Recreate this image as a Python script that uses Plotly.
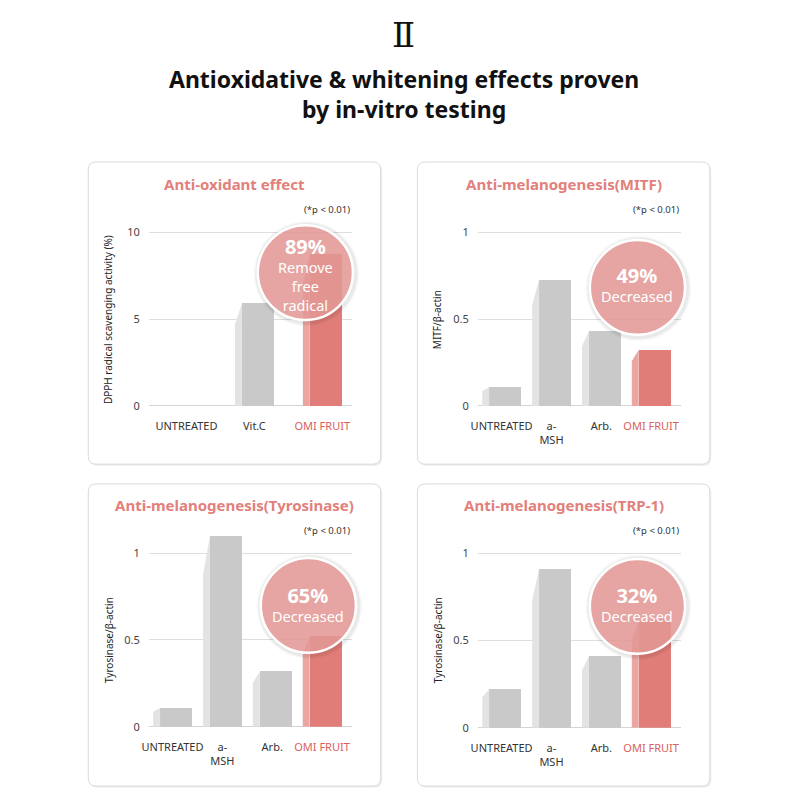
import plotly.graph_objects as go

# ---------------- data ----------------
cats_antiox = ["UNTREATED", "Vit.C", "OMI FRUIT"]
ticks_antiox = ["UNTREATED", "Vit.C", "OMI FRUIT"]
dpph_values = [0.0, 5.9, 8.75]

cats_mel = ["UNTREATED", "a-MSH", "Arb.", "OMI FRUIT"]
ticks_mel = ["UNTREATED", "a-<br>MSH", "Arb.", "OMI FRUIT"]
mitf_values = [0.108, 0.727, 0.43, 0.324]
tyrosinase_values = [0.108, 1.097, 0.318, 0.52]
trp1_values = [0.22, 0.91, 0.41, 0.62]

yticks_antiox = [0, 5, 10]
yticks_mel = [0, 0.5, 1]

panel_titles = ["Anti-oxidant effect", "Anti-melanogenesis(MITF)",
                "Anti-melanogenesis(Tyrosinase)", "Anti-melanogenesis(TRP-1)"]
y_titles = ["DPPH radical scavenging activity (%)", "MITF/β-actin",
            "Tyrosinase/β-actin", "Tyrosinase/β-actin"]
badge_pcts = ["89%", "49%", "65%", "32%"]
badge_texts = ["Remove<br>free<br>radical", "Decreased", "Decreased", "Decreased"]

# ---------------- style ----------------
FONT = "Noto Sans"
GRAY = "#c9c9c9"
GRAY_SIDE = "#e3e3e3"
RED = "#e07d78"
RED_SIDE = "#eca6a2"
TITLE_RED = "#e2807b"
LABEL_RED = "#d9605c"

def PX(x):
    return x / 800.0

def PY(y):
    return 1 - y / 800.0

panels = [
    dict(cats=cats_antiox, ticks=ticks_antiox, vals=dpph_values, yt=yticks_antiox,
         ytt=["0", "5", "10"], yr=[0, 10.3], plot=(143, 348, 227, 408),
         xr=[-0.555, 2.438], card=(82, 161, 377, 467), title_y=183, p_y=209,
         ytitle_x=102, ytitle_y=321, badge=(301, 273, 48), badge_text_y=274),
    dict(cats=cats_mel, ticks=ticks_mel, vals=mitf_values, yt=yticks_mel,
         ytt=["0", "0.5", "1"], yr=[0, 1.03], plot=(475, 680, 227, 408),
         xr=[-0.477, 3.6], card=(414, 161, 709, 467), title_y=183, p_y=209,
         ytitle_x=434, ytitle_y=321, badge=(636, 288, 48), badge_text_y=285),
    dict(cats=cats_mel, ticks=ticks_mel, vals=tyrosinase_values, yt=yticks_mel,
         ytt=["0", "0.5", "1"], yr=[0, 1.12], plot=(143, 348, 536, 733),
         xr=[-0.477, 3.6], card=(82, 487, 377, 793), title_y=508, p_y=534,
         ytitle_x=103, ytitle_y=645, badge=(304, 610, 48), badge_text_y=609),
    dict(cats=cats_mel, ticks=ticks_mel, vals=trp1_values, yt=yticks_mel,
         ytt=["0", "0.5", "1"], yr=[0, 1.03], plot=(475, 680, 552, 734),
         xr=[-0.477, 3.6], card=(414, 487, 709, 793), title_y=508, p_y=534,
         ytitle_x=435, ytitle_y=645, badge=(636, 611, 48), badge_text_y=609),
]

fig = go.Figure()
shapes = []
annotations = []

MAIN_W_PX = 32
SIDE_W_PX = 7

for k, p in enumerate(panels):
    idx = "" if k == 0 else str(k + 1)
    xa, ya = "x" + idx, "y" + idx
    x0p, x1p, ytop, ybot = p["plot"]
    unit = (x1p - x0p) / (p["xr"][1] - p["xr"][0])
    main_w = MAIN_W_PX / unit
    side_w = SIDE_W_PX / unit
    left = -(MAIN_W_PX + SIDE_W_PX) / 2.0 / unit
    main_off = left + side_w

    xs = list(range(len(p["cats"])))
    colors = [RED if c == "OMI FRUIT" else GRAY for c in p["cats"]]
    side_colors = [RED_SIDE if c == "OMI FRUIT" else GRAY_SIDE for c in p["cats"]]

    # side (perspective) faces
    for i, v in enumerate(p["vals"]):
        if v <= 0:
            continue
        xl = i + left
        xr = i + main_off
        fig.add_trace(go.Scatter(
            x=[xl, xl, xr, xr, xl], y=[0, 0.8 * v, v, 0, 0],
            mode="lines", fill="toself", fillcolor=side_colors[i],
            line=dict(width=0, color=side_colors[i]), hoverinfo="skip",
            showlegend=False, xaxis=xa, yaxis=ya))
    # main bars
    fig.add_trace(go.Bar(
        x=xs, y=p["vals"], width=main_w, offset=main_off,
        marker=dict(color=colors, line=dict(width=0)),
        showlegend=False, xaxis=xa, yaxis=ya, hoverinfo="skip"))

    ticktext = []
    for c, t in zip(p["cats"], p["ticks"]):
        if c == "OMI FRUIT":
            ticktext.append('<span style="color:%s">%s</span>' % (LABEL_RED, t))
        else:
            ticktext.append(t)

    fig.update_layout(**{
        "xaxis" + idx: dict(domain=[PX(x0p), PX(x1p)], range=p["xr"], anchor=ya,
                            tickvals=xs, ticktext=ticktext, showgrid=False,
                            zeroline=False, showline=False, ticks="",
                            ticklabelstandoff=12, fixedrange=True,
                            tickfont=dict(family=FONT, size=11, color="#333333")),
        "yaxis" + idx: dict(domain=[PY(ybot), PY(ytop)], range=p["yr"], anchor=xa,
                            tickvals=p["yt"], ticktext=p["ytt"], showgrid=True,
                            gridcolor="#dedede", gridwidth=1, zeroline=True,
                            zerolinecolor="#d4d4d4", zerolinewidth=1,
                            showline=False, ticks="", ticklabelstandoff=8,
                            fixedrange=True,
                            tickfont=dict(family=FONT, size=11, color="#444444")),
    })

    # card
    cx0, cy0, cx1, cy1 = p["card"]
    r = 8

    def card_path(ox, oy):
        a0, b0, a1, b1 = cx0 + ox, cy0 + oy, cx1 + ox, cy1 + oy
        pts = [
            "M %f,%f" % (PX(a0 + r), PY(b0)),
            "L %f,%f" % (PX(a1 - r), PY(b0)),
            "Q %f,%f %f,%f" % (PX(a1), PY(b0), PX(a1), PY(b0 + r)),
            "L %f,%f" % (PX(a1), PY(b1 - r)),
            "Q %f,%f %f,%f" % (PX(a1), PY(b1), PX(a1 - r), PY(b1)),
            "L %f,%f" % (PX(a0 + r), PY(b1)),
            "Q %f,%f %f,%f" % (PX(a0), PY(b1), PX(a0), PY(b1 - r)),
            "L %f,%f" % (PX(a0), PY(b0 + r)),
            "Q %f,%f %f,%f" % (PX(a0), PY(b0), PX(a0 + r), PY(b0)),
            "Z",
        ]
        return " ".join(pts)

    shapes.append(dict(type="path", xref="paper", yref="paper", layer="below",
                       path=card_path(1.5, 1.5), fillcolor="#ececec",
                       line=dict(width=0)))
    shapes.append(dict(type="path", xref="paper", yref="paper", layer="below",
                       path=card_path(0, 0), fillcolor="#ffffff",
                       line=dict(width=1, color="#dadada")))

    # badge bubble
    bx, by, br = p["badge"]
    for extra, col in [(5, "rgba(0,0,0,0.035)"), (3.5, "rgba(0,0,0,0.05)")]:
        shapes.append(dict(type="circle", xref="paper", yref="paper", layer="above",
                           x0=PX(bx - br - extra + 1), x1=PX(bx + br + extra + 1),
                           y0=PY(by + br + extra + 1), y1=PY(by - br - extra + 1),
                           fillcolor=col, line=dict(width=0)))
    shapes.append(dict(type="circle", xref="paper", yref="paper", layer="above",
                       x0=PX(bx - br), x1=PX(bx + br), y0=PY(by + br), y1=PY(by - br),
                       fillcolor="rgba(229,154,151,0.86)",
                       line=dict(width=2.5, color="#ffffff")))

    # texts
    annotations.append(dict(xref="paper", yref="paper", x=PX((cx0 + cx1) / 2),
                            y=PY(p["title_y"]), text="<b>%s</b>" % panel_titles[k],
                            showarrow=False, xanchor="center", yanchor="middle",
                            font=dict(family=FONT, size=15, color=TITLE_RED)))
    annotations.append(dict(xref="paper", yref="paper", x=PX(x1p), y=PY(p["p_y"]),
                            text="(*p < 0.01)", showarrow=False, xanchor="right",
                            yanchor="middle",
                            font=dict(family=FONT, size=9.5, color="#333333")))
    annotations.append(dict(xref="paper", yref="paper", x=PX(p["ytitle_x"]),
                            y=PY(p["ytitle_y"]), text=y_titles[k], textangle=-90,
                            showarrow=False, xanchor="center", yanchor="middle",
                            font=dict(family=FONT, size=10, color="#222222")))
    annotations.append(dict(xref="paper", yref="paper", x=PX(bx),
                            y=PY(p["badge_text_y"]),
                            text='<b><span style="font-size:20px">%s</span></b><br>%s'
                                 % (badge_pcts[k], badge_texts[k]),
                            showarrow=False, xanchor="center", yanchor="middle",
                            font=dict(family=FONT, size=14.5, color="#ffffff")))

# page header
annotations.append(dict(xref="paper", yref="paper", x=0.5, y=PY(32), text="Ⅱ",
                        showarrow=False, xanchor="center", yanchor="middle",
                        font=dict(family="DejaVu Serif", size=34, color="#111111")))
annotations.append(dict(xref="paper", yref="paper", x=0.5, y=PY(92),
                        text="<b>Antioxidative & whitening effects proven<br>by in-vitro testing</b>",
                        showarrow=False, xanchor="center", yanchor="middle",
                        font=dict(family=FONT, size=23, color="#111111")))

fig.update_layout(width=800, height=800, autosize=False,
                  margin=dict(l=0, r=0, t=0, b=0),
                  paper_bgcolor="#ffffff", plot_bgcolor="rgba(0,0,0,0)",
                  shapes=shapes, annotations=annotations, bargap=0,
                  barmode="overlay", showlegend=False)

fig.write_html("out.html", config={"displayModeBar": False},
               post_script="document.body.style.margin='0';")
